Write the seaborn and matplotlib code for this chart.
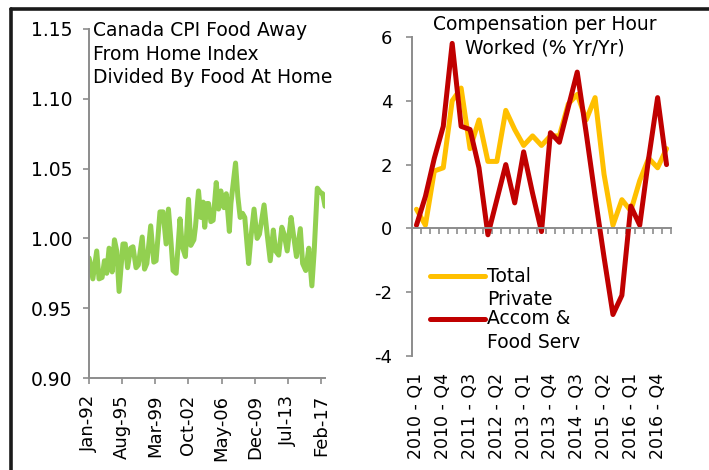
import matplotlib
matplotlib.use("Agg")
import matplotlib.pyplot as plt
from matplotlib.lines import Line2D
import seaborn as sns
import pandas as pd

# Left panel: CPI food away from home / food at home (month index from Jan-92)
cpi_month = [0, 1, 5, 10, 13, 17, 20, 23, 26, 30, 33, 36, 39, 44, 47, 50, 54, 57, 61, 64,
             69, 72, 75, 80, 84, 87, 92, 96, 100, 103, 106, 109, 113, 118, 121, 125, 129,
             132, 136, 138, 142, 145, 148, 150, 153, 155, 158, 161, 165, 168, 171, 175,
             178, 182, 184, 190, 193, 196, 199, 202, 207, 210, 214, 218, 221, 227, 231,
             235, 239, 242, 246, 250, 253, 257, 262, 265, 269, 274, 277, 281, 285, 289,
             292, 296, 300, 303, 306]
cpi_ratio = [0.986, 0.984, 0.971, 0.991, 0.971, 0.972, 0.984, 0.975, 0.993, 0.976, 0.999,
             0.991, 0.962, 0.996, 0.996, 0.979, 0.993, 0.994, 0.979, 0.981, 1.001, 0.978,
             0.982, 1.009, 0.983, 0.984, 1.019, 1.019, 0.996, 1.021, 1.000, 0.977, 0.975,
             1.014, 0.994, 0.987, 1.028, 0.995, 0.999, 1.008, 1.034, 1.015, 1.026, 1.008,
             1.025, 1.025, 1.012, 1.013, 1.040, 1.021, 1.034, 1.022, 1.032, 1.005, 1.025,
             1.054, 1.030, 1.015, 1.018, 1.015, 0.982, 1.001, 1.021, 1.000, 1.003, 1.024,
             1.003, 0.984, 1.006, 0.991, 0.988, 1.008, 1.003, 0.991, 1.015, 1.003, 0.987,
             1.007, 0.982, 0.977, 0.993, 0.966, 0.991, 1.036, 1.033, 1.032, 1.023]
cpi_tick_pos = [0, 43, 86, 129, 172, 215, 258, 301]
cpi_tick_labels = ["Jan-92", "Aug-95", "Mar-99", "Oct-02", "May-06", "Dec-09", "Jul-13", "Feb-17"]

# Right panel: compensation per hour worked, % yr/yr, 2010 Q1 .. 2017 Q1
quarters = [f"{y} - Q{q}" for y in range(2010, 2017) for q in range(1, 5)] + ["2017 - Q1"]
total_private = [0.6, 0.1, 1.8, 1.9, 4.0, 4.4, 2.5, 3.4, 2.1, 2.1, 3.7, 3.1, 2.6, 2.9, 2.6,
                 2.9, 2.9, 3.9, 4.2, 3.4, 4.1, 1.7, 0.1, 0.9, 0.55, 1.5, 2.2, 1.9, 2.5]
accom_food = [0.1, 1.0, 2.2, 3.2, 5.8, 3.2, 3.1, 1.9, -0.2, 0.9, 2.0, 0.8, 2.4, 1.1, -0.1,
              3.0, 2.7, 3.8, 4.9, 3.0, 1.0, -0.9, -2.7, -2.1, 0.7, 0.1, 2.2, 4.1, 2.0]

sns.set_theme(style="white")
plt.rcParams["font.family"] = ["DejaVu Sans"]
plt.rcParams["axes.unicode_minus"] = False
plt.rcParams["text.color"] = "black"

fig = plt.figure(figsize=(7.09, 4.70), dpi=100)
axis_grey = "#8c8c8c"

# ---- left panel
ax1 = fig.add_axes([89 / 709, 1 - 378 / 470, 236 / 709, 349 / 470])
df_cpi = pd.DataFrame({"month": cpi_month, "ratio": cpi_ratio})
sns.lineplot(data=df_cpi, x="month", y="ratio", ax=ax1, color="#92D050", linewidth=3.6)
ax1.set_xlim(0, 306)
ax1.set_ylim(0.90, 1.15)
ax1.set_yticks([0.90, 0.95, 1.00, 1.05, 1.10, 1.15])
ax1.set_yticklabels([f"{v:.2f}" for v in [0.90, 0.95, 1.00, 1.05, 1.10, 1.15]])
ax1.set_xticks(cpi_tick_pos)
ax1.set_xticklabels(cpi_tick_labels, rotation=90)
ax1.set_xlabel("")
ax1.set_ylabel("")
ax1.text(0.017, 1.022, "Canada CPI Food Away\nFrom Home Index\nDivided By Food At Home",
         transform=ax1.transAxes, va="top", ha="left", fontsize=13.5, linespacing=1.29)

# ---- right panel
ax2 = fig.add_axes([412 / 709, 1 - 356 / 470, 259 / 709, 319 / 470])
idx = list(range(len(quarters)))
df_comp = pd.DataFrame({
    "q": idx * 2,
    "value": total_private + accom_food,
    "series": ["Total\nPrivate"] * len(idx) + ["Accom &\nFood Serv"] * len(idx),
})
sns.lineplot(data=df_comp, x="q", y="value", hue="series", ax=ax2,
             palette=["#FFC000", "#C00000"], linewidth=3.6, legend=False)
ax2.set_xlim(-0.5, len(idx) - 0.5)
ax2.set_ylim(-4, 6)
ax2.set_yticks([-4, -2, 0, 2, 4, 6])
ax2.set_xlabel("")
ax2.set_ylabel("")
ax2.spines["bottom"].set_position(("data", 0))
ax2.set_xticks([i - 0.5 for i in range(len(idx) + 1)])
ax2.set_xticklabels([])

sec = ax2.secondary_xaxis("bottom")
sec.set_xticks(idx[::3])
sec.set_xticklabels(quarters[::3], rotation=90, fontsize=12.5, color="black")
sec.spines["bottom"].set_visible(False)
sec.tick_params(length=0, pad=12)

ax2.text(0.514, 1.068, "Compensation per Hour\nWorked (% Yr/Yr)", transform=ax2.transAxes,
         va="top", ha="center", fontsize=13.5, linespacing=1.3)

lines = ax2.get_lines()
leg = ax2.legend(lines[:2], ["Total\nPrivate", "Accom &\nFood Serv"], loc="upper left",
                 bbox_to_anchor=(0.07, 0.28), frameon=False, fontsize=13.5,
                 handlelength=2.9, handletextpad=0.15, borderpad=0, borderaxespad=0,
                 labelspacing=0.0)
for t in leg.get_texts():
    t.set_linespacing(1.3)
    t.set_color("black")
for ln in leg.get_lines():
    ln.set_linewidth(3.6)
    ln.set_ydata([y + 9.0 for y in ln.get_ydata()])

# ---- shared styling
for ax in (ax1, ax2):
    for side in ("top", "right"):
        ax.spines[side].set_visible(False)
    for side in ("left", "bottom"):
        ax.spines[side].set_color(axis_grey)
        ax.spines[side].set_linewidth(1.4)
    ax.tick_params(axis="both", direction="out", length=4, width=1.2, color=axis_grey,
                   labelsize=13.5, labelcolor="black", bottom=True, left=True)
ax1.tick_params(axis="y", pad=8)
ax1.tick_params(axis="x", pad=8, labelsize=13)
ax2.tick_params(axis="y", pad=10, labelsize=13)

# outer frame (top and left edges only; the rest runs off the image)
frame_kw = dict(transform=fig.transFigure, color="#1a1a1a", linewidth=2.6)
fig.add_artist(Line2D([11 / 709, 1.0], [1 - 9 / 470, 1 - 9 / 470], **frame_kw))
fig.add_artist(Line2D([11 / 709, 11 / 709], [0.0, 1 - 9 / 470], **frame_kw))

fig.savefig("out.png", dpi=100)
